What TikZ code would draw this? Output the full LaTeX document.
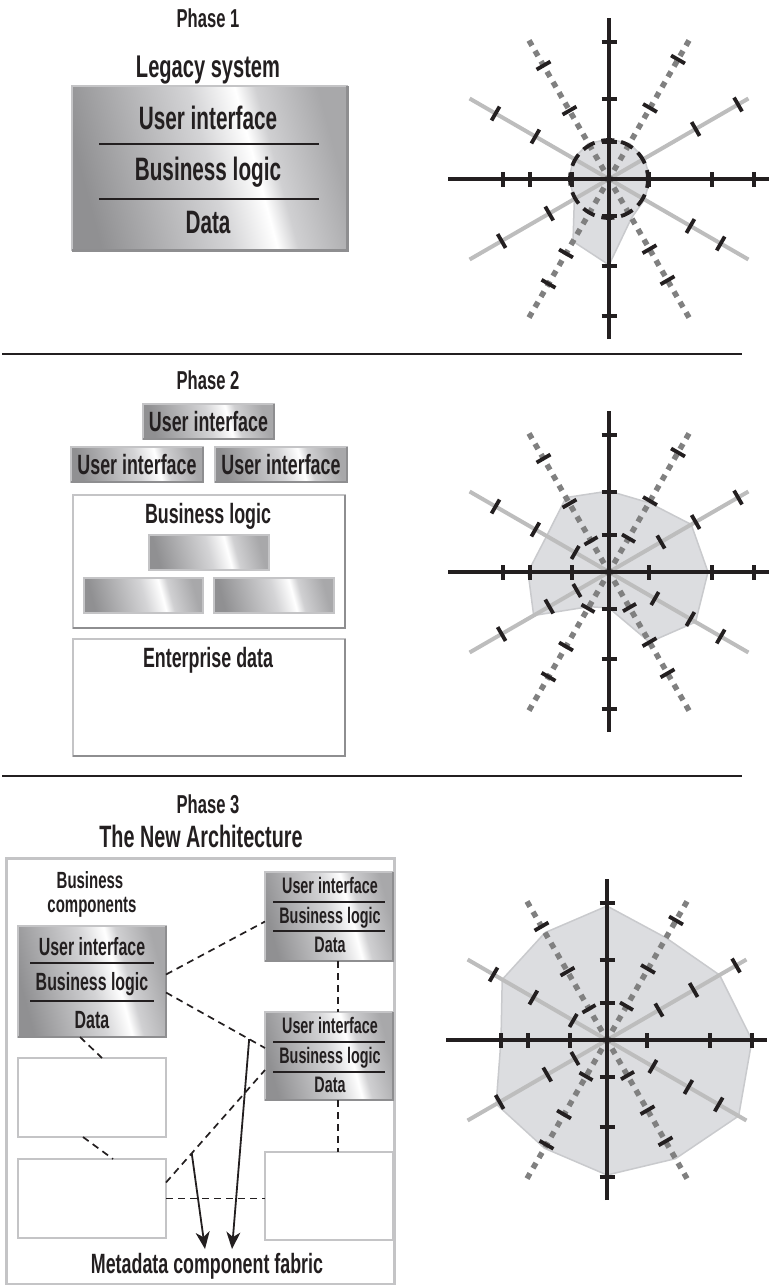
\documentclass[tikz,border=0pt]{standalone}
\usepackage{fontspec}
\setmainfont{Liberation Sans}[FakeStretch=0.64]
\usetikzlibrary{calc,arrows.meta}

\definecolor{ink}{HTML}{231F20}
\definecolor{rimlight}{HTML}{C4C4C6}
\definecolor{rimdark}{HTML}{8E8E90}
\definecolor{radarfill}{HTML}{DCDDE0}
\definecolor{radaredge}{HTML}{C9CACD}
\definecolor{spokelight}{HTML}{BDBDBD}
\definecolor{spokedot}{HTML}{808080}
\definecolor{mA}{HTML}{909092}
\definecolor{mB}{HTML}{D4D4D6}
\definecolor{mC}{HTML}{D0D0D2}
\definecolor{mD}{HTML}{A8A8AA}

% brushed-metal fill used by the component boxes
\pgfdeclarehorizontalshading{metal}{100bp}{color(0bp)=(mA); color(25bp)=(mA); color(50bp)=(mB); color(59bp)=(white); color(63bp)=(mC); color(75bp)=(mD); color(100bp)=(mD)}

\newcommand\setfs[1]{\fontsize{#1}{#1}\selectfont\bfseries}

\tikzset{
  lbl/.style={anchor=base, inner sep=0, text=ink},
  metalbox/.style={draw=rimlight, line width=1.2bp, shading=metal, shading angle=15,
    inner sep=0, outer sep=0, anchor=north west},
  plainbox/.style={draw=rimlight, line width=2bp, fill=white, inner sep=0, outer sep=0,
    anchor=north west},
  rimshadow/.style={draw=rimdark, line width=2.5bp},
  divider/.style={draw=ink, line width=2bp},
  sepline/.style={draw=ink, line width=2.5bp},
  link/.style={draw=ink, line width=1.7bp, dash pattern=on 7bp off 5bp},
  flow/.style={draw=ink, line width=1.8bp, -{Stealth[length=17bp,width=14bp,inset=5bp]}},
  axisline/.style={draw=ink, line width=4.5bp},
  spokeline/.style={draw=spokelight, line width=4bp},
  dotline/.style={draw=spokedot, line width=5.5bp, dash pattern=on 6bp off 6bp},
  tickline/.style={draw=ink, line width=3.8bp},
  radarpoly/.style={fill=radarfill, draw=radaredge, line width=1.5bp, line join=round},
}

% common spokes, axes and scale marks of a radar chart (scope centred on the chart)
\newcommand\radarframe{%
  \foreach \a in {30,150} \draw[spokeline] (\a:161) -- (\a+180:161);
  \foreach \a in {60,120,240,300} \draw[dotline] (\a:160) -- (0,0);
  \draw[axisline] (-161,0) -- (160,0);
  \draw[axisline] (0,-160) -- (0,161);
  \foreach \r in {40,103,145} \draw[tickline] (\r,-7.5) -- (\r,7.5);
  \foreach \r in {37,79,106} \draw[tickline] (-\r,-7.5) -- (-\r,7.5);
  \foreach \r in {37,80,137} \draw[tickline] (-7.5,\r) -- (7.5,\r);
  \foreach \r in {37,87,137} \draw[tickline] (-7.5,-\r) -- (7.5,-\r);
  \foreach \a/\r in {30/94,30/129,60/81,60/117,120/86,120/121,150/69,150/124,
                     210/85,210/131,240/79,240/131,300/82,300/138,330/100,330/149}
    \draw[tickline, rotate=\a] (\r,-8) -- (\r,8);
}
\newcommand\radarinner{%
  \foreach \a/\r in {30/53,60/41,120/42,150/37,210/39,240/36,300/39,330/60}
    \draw[tickline, rotate=\a] (\r,-7.5) -- (\r,7.5);
}

\begin{document}
\begin{tikzpicture}[x=1bp, y=-1bp]
\useasboundingbox (0,0) rectangle (770,1285);

% ---------------- Phase 1 ----------------
\node[lbl, font=\setfs{26}] (ph1) at (208,27) {Phase 1};
\node[lbl, font=\setfs{31.5}] (legacy) at (208,77) {Legacy system};
\node[metalbox, minimum width=275bp, minimum height=164bp] (L) at (72,86) {};
\draw[rimshadow, line width=3bp] (L.north east) -- (L.south east) -- (L.south west);
\draw[divider, line width=2.4bp] ([xshift=27bp,yshift=-58bp]L.north west) -- ([xshift=-28bp,yshift=-58bp]L.north east);
\draw[divider, line width=2.4bp] ([xshift=27bp,yshift=-113bp]L.north west) -- ([xshift=-28bp,yshift=-113bp]L.north east);
\node[lbl, font=\setfs{32.5}] (L1) at (208,129) {User interface};
\node[lbl, font=\setfs{32.5}] (L2) at (208,180) {Business logic};
\node[lbl, font=\setfs{32.5}] (L3) at (208,233) {Data};

\begin{scope}[shift={(609,179)}, yscale=-1]
  \fill[radarpoly] (0:41) -- (30:41) -- (60:41) -- (90:40) -- (120:41) -- (150:41)
    -- (180:40) -- (210:40) -- (240:72) -- (270:86) -- (300:45) -- (330:41) -- cycle;
  \radarframe
  \draw[tickline, dash pattern=on 13bp off 7bp, dash phase=4bp] (0,0) circle[radius=39];
\end{scope}

\draw[sepline] (2,354) coordinate (s1a) -- (742,354) coordinate (s1b);

% ---------------- Phase 2 ----------------
\node[lbl, font=\setfs{26}] (ph2) at (208,389) {Phase 2};
\node[metalbox, minimum width=131bp, minimum height=35bp] (ua) at (143,404) {};
\node[metalbox, minimum width=132bp, minimum height=35bp] (ub) at (71,447) {};
\node[metalbox, minimum width=132bp, minimum height=35bp] (uc) at (215,447) {};
\foreach \n in {ua,ub,uc} \draw[rimshadow, line width=2bp] (\n.north east) -- (\n.south east) -- (\n.south west);
\node[lbl, font=\setfs{28}] at ([yshift=-10bp]ua.center) {User interface};
\node[lbl, font=\setfs{28}] at ([yshift=-10bp]ub.center) {User interface};
\node[lbl, font=\setfs{28}] at ([yshift=-10bp]uc.center) {User interface};

\node[plainbox, minimum width=272bp, minimum height=133bp] (bl) at (73,495) {};
\draw[rimshadow] (bl.north east) -- (bl.south east) -- (bl.south west);
\node[lbl, font=\setfs{28}] (bltext) at (208,523) {Business logic};
\node[metalbox, minimum width=120bp, minimum height=35bp] (sa) at (149,535) {};
\node[metalbox, minimum width=119bp, minimum height=35bp] (sb) at (84,578) {};
\node[metalbox, minimum width=120bp, minimum height=35bp] (sc) at (214,578) {};

\node[plainbox, minimum width=272bp, minimum height=117bp] (ed) at (73,639) {};
\draw[rimshadow] (ed.north east) -- (ed.south east) -- (ed.south west);
\node[lbl, font=\setfs{28}] (edtext) at (208,667) {Enterprise data};

\begin{scope}[shift={(609,572)}, yscale=-1]
  \fill[radarpoly] (0:99) -- (30:95) -- (60:80) -- (90:81) -- (120:86) -- (150:72)
    -- (180:81) -- (210:87) -- (240:40) -- (270:36) -- (300:81) -- (330:100) -- cycle;
  \radarframe
  \radarinner
\end{scope}

\draw[sepline] (2,776) coordinate (s2a) -- (742,776) coordinate (s2b);

% ---------------- Phase 3 ----------------
\node[lbl, font=\setfs{26}] (ph3) at (208,813) {Phase 3};
\node[lbl, font=\setfs{31}] (arch) at (201,847) {The New Architecture};
\node[draw=rimlight, line width=2.5bp, inner sep=0, anchor=north west,
      minimum width=388bp, minimum height=426bp] (fab) at (5,857) {};

\node[lbl, font=\setfs{23.5}] (bc1) at (90,888) {Business};
\node[lbl, font=\setfs{23.5}] (bc2) at (92,912) {components};

% left component
\node[metalbox, minimum width=148bp, minimum height=111bp] (lc) at (18,926) {};
\draw[rimshadow, line width=2bp] (lc.north east) -- (lc.south east) -- (lc.south west);
\draw[divider] ([xshift=12bp,yshift=-37bp]lc.north west) -- ([xshift=-12bp,yshift=-37bp]lc.north east);
\draw[divider] ([xshift=12bp,yshift=-75bp]lc.north west) -- ([xshift=-12bp,yshift=-75bp]lc.north east);
\node[lbl, font=\setfs{25}] at (92,955) {User interface};
\node[lbl, font=\setfs{25}] at (92,990) {Business logic};
\node[lbl, font=\setfs{25}] at (92,1028) {Data};

% right components
\node[metalbox, minimum width=128bp, minimum height=89bp] (trc) at (265,872) {};
\draw[rimshadow, line width=2bp] (trc.north east) -- (trc.south east) -- (trc.south west);
\draw[divider] ([xshift=8bp,yshift=-30bp]trc.north west) -- ([xshift=-8bp,yshift=-30bp]trc.north east);
\draw[divider] ([xshift=8bp,yshift=-59bp]trc.north west) -- ([xshift=-8bp,yshift=-59bp]trc.north east);
\node[lbl, font=\setfs{22.5}] at (330,893) {User interface};
\node[lbl, font=\setfs{22.5}] at (330,923) {Business logic};
\node[lbl, font=\setfs{22.5}] at (330,952) {Data};

\node[metalbox, minimum width=128bp, minimum height=88bp] (lrc) at (265,1012) {};
\draw[rimshadow, line width=2bp] (lrc.north east) -- (lrc.south east) -- (lrc.south west);
\draw[divider] ([xshift=8bp,yshift=-30bp]lrc.north west) -- ([xshift=-8bp,yshift=-30bp]lrc.north east);
\draw[divider] ([xshift=8bp,yshift=-60bp]lrc.north west) -- ([xshift=-8bp,yshift=-60bp]lrc.north east);
\node[lbl, font=\setfs{22.5}] at (330,1033) {User interface};
\node[lbl, font=\setfs{22.5}] at (330,1063) {Business logic};
\node[lbl, font=\setfs{22.5}] at (330,1092) {Data};

% empty slots
\node[plainbox, minimum width=148bp, minimum height=79bp] (ba) at (18,1058) {};
\node[plainbox, minimum width=148bp, minimum height=79bp] (bb) at (18,1159) {};
\node[plainbox, minimum width=128bp, minimum height=88bp] (bcx) at (265,1152) {};

% dashed links between components
\draw[link] ([yshift=7bp]lc.east) -- ([yshift=-5bp]trc.west);
\draw[link] ([yshift=-11bp]lc.east) -- coordinate[pos=0.84] (t2) ([yshift=8bp]lrc.west);
\draw[link] ([xshift=9bp]trc.south) -- ([xshift=9bp]lrc.north);
\draw[link] ([xshift=9bp]lrc.south) -- ([xshift=9bp]bcx.north);
\draw[link] ([xshift=-12bp]lc.south) -- ([xshift=10bp]ba.north);
\draw[link] ([xshift=-9bp]ba.south) -- ([xshift=21bp]bb.north);
\draw[link] ([yshift=16bp]bb.east) -- coordinate[pos=0.26] (t1) ([yshift=-14bp]lrc.west);
\draw[link] (bb.east) -- (bb.east -| bcx.west);

\node[lbl, font=\setfs{28}] (meta) at (207,1273) {Metadata component fabric};
\coordinate (e1) at (205,1249);
\coordinate (e2) at (232,1249);
\draw[flow] (t1) -- (e1);
\draw[flow] (t2) -- (e2);

\begin{scope}[shift={(607,1040)}, yscale=-1]
  \fill[radarpoly] (0:145) -- (30:130) -- (60:118) -- (90:134) -- (120:124) -- (150:121)
    -- (180:106) -- (210:128) -- (240:125) -- (270:135) -- (300:137) -- (330:152) -- cycle;
  \radarframe
  \radarinner
\end{scope}
\end{tikzpicture}
\end{document}
